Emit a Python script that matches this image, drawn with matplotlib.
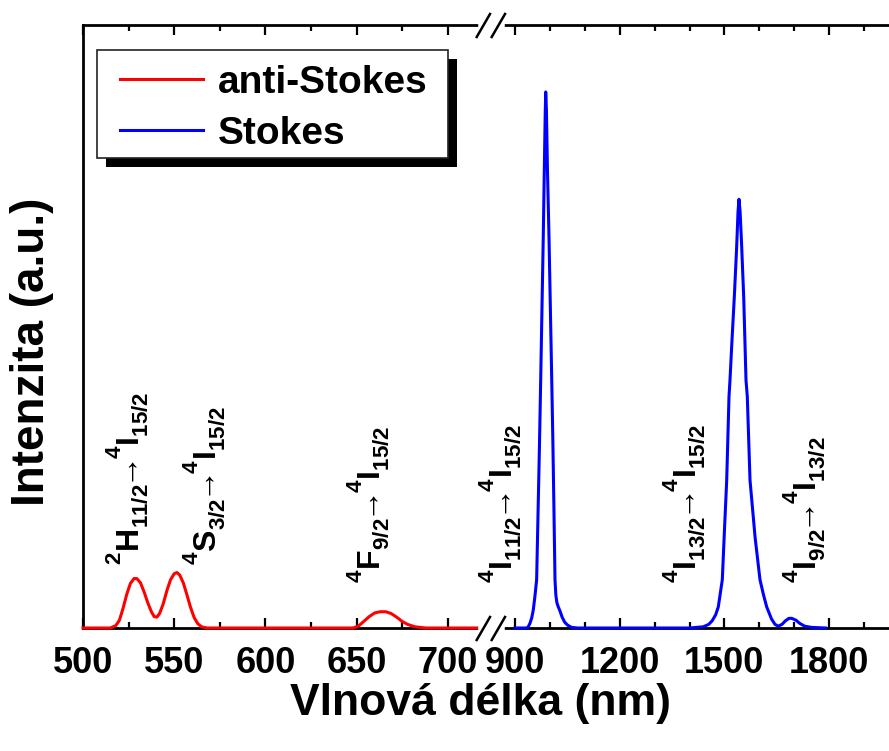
import matplotlib
matplotlib.use('Agg')
import matplotlib.pyplot as plt
from matplotlib.lines import Line2D
from matplotlib.patches import Rectangle
import matplotlib.transforms as mtransforms
from matplotlib.ticker import FixedLocator

try:  # raise superscripts / lower subscripts a bit more, like the original
    import matplotlib._mathtext as _mt
    _mt.FontConstantsBase.sup1 = 1.05
    _mt.FontConstantsBase.sub1 = 0.55
    _mt.FontConstantsBase.sub2 = 0.75
except Exception:
    pass

plt.rcParams['font.family'] = ['Liberation Sans', 'DejaVu Sans']
plt.rcParams['font.weight'] = 'bold'
plt.rcParams['mathtext.fontset'] = 'custom'
plt.rcParams['mathtext.rm'] = 'Liberation Sans'
plt.rcParams['mathtext.bf'] = 'Liberation Sans:bold'
plt.rcParams['mathtext.it'] = 'Liberation Sans:italic'

# ---------------- data ----------------
anti_stokes_nm = [500, 515, 518, 520, 522, 524, 526, 528, 529.5, 531.5, 533.5, 535.5,
                  537.5, 539, 540.5, 542, 544, 546, 548, 550, 551.5, 553, 555, 557,
                  559, 561, 563, 565, 568, 648, 651, 654, 657, 660, 663, 666, 669,
                  672, 675, 678, 682, 688, 719]
anti_stokes_int = [0, 0, 0.004, 0.013, 0.033, 0.056, 0.074, 0.082, 0.082, 0.075, 0.060,
                   0.042, 0.027, 0.019, 0.018, 0.024, 0.040, 0.062, 0.080, 0.090, 0.092,
                   0.088, 0.075, 0.055, 0.034, 0.017, 0.007, 0.002, 0, 0, 0.003, 0.011,
                   0.019, 0.025, 0.027, 0.027, 0.024, 0.018, 0.011, 0.006, 0.002, 0, 0]

stokes_nm = [900, 935, 938, 943, 948, 952.4, 957, 962, 966, 970, 973.6, 977, 981,
             984, 986.5, 988, 990, 993, 997.4, 1001, 1005, 1008.5, 1011.5, 1014.6,
             1017, 1020, 1024, 1029, 1035, 1042, 1050, 1062, 1080,
             1400, 1439.5, 1455, 1465, 1475, 1482.5, 1494, 1500, 1506.6, 1513.2, 1516,
             1522, 1528.4, 1535, 1539, 1541.8, 1545, 1549, 1555.3, 1561.9, 1565.6,
             1573.4, 1588, 1602, 1612, 1621.2, 1635, 1645, 1654.4, 1665, 1675, 1685,
             1692.8, 1705, 1715, 1730, 1750, 1790]
stokes_int = [0, 0, 0.002, 0.008, 0.017, 0.030, 0.052, 0.080, 0.19, 0.30, 0.411, 0.52,
              0.649, 0.76, 0.85, 0.889, 0.86, 0.76, 0.649, 0.54, 0.42, 0.31, 0.20, 0.080,
              0.055, 0.042, 0.035, 0.028, 0.018, 0.010, 0.005, 0.001, 0,
              0, 0.002, 0.006, 0.012, 0.022, 0.035, 0.080, 0.16, 0.245, 0.384, 0.411,
              0.48, 0.549, 0.63, 0.69, 0.711, 0.69, 0.64, 0.549, 0.411, 0.384,
              0.245, 0.15, 0.080, 0.055, 0.035, 0.015, 0.006, 0.003, 0.006, 0.012, 0.016,
              0.016, 0.013, 0.008, 0.003, 0.001, 0]

left_major = [500, 550, 600, 650, 700]
left_minor = [525, 575, 625, 675]
right_major = [900, 1200, 1500, 1800]
right_minor = [1000, 1100, 1300, 1400, 1600, 1700, 1900]

series_labels = ['anti-Stokes', 'Stokes']
series_colors = ['#ff0000', '#0000ff']

ARW = r'\!\!\rightarrow\!\!{}'
annot_left = [
    (524.1, 0.104, r'$^{\mathbf{2}}\mathbf{H}_{\mathbf{11/2}}' + ARW + r'^{\mathbf{4}}\mathbf{I}_{\mathbf{15/2}}$'),
    (566.4, 0.104, r'$^{\mathbf{4}}\mathbf{S}_{\mathbf{3/2}}' + ARW + r'^{\mathbf{4}}\mathbf{I}_{\mathbf{15/2}}$'),
    (656.3, 0.075, r'$^{\mathbf{4}}\mathbf{F}_{\mathbf{9/2}}' + ARW + r'^{\mathbf{4}}\mathbf{I}_{\mathbf{15/2}}$'),
]
annot_right = [
    (857, 0.075, r'$^{\mathbf{4}}\mathbf{I}_{\mathbf{11/2}}' + ARW + r'^{\mathbf{4}}\mathbf{I}_{\mathbf{15/2}}$'),
    (1384, 0.075, r'$^{\mathbf{4}}\mathbf{I}_{\mathbf{13/2}}' + ARW + r'^{\mathbf{4}}\mathbf{I}_{\mathbf{15/2}}$'),
    (1728, 0.075, r'$^{\mathbf{4}}\mathbf{I}_{\mathbf{9/2}}' + ARW + r'^{\mathbf{4}}\mathbf{I}_{\mathbf{13/2}}$'),
]

# ---------------- layout ----------------
W, H = 889, 751
fig = plt.figure(figsize=(W / 100, H / 100), dpi=100)


def fx(px):
    return px / W


def fy(py):
    return 1 - py / H


XL, XB, XR, YT, YB = 83, 491, 889, 25, 628
ax1 = fig.add_axes([fx(XL), fy(YB), fx(XB) - fx(XL), fy(YT) - fy(YB)])
ax2 = fig.add_axes([fx(XB), fy(YB), fx(XR) - fx(XB), fy(YT) - fy(YB)])

l1, = ax1.plot(anti_stokes_nm, anti_stokes_int, color=series_colors[0], lw=2.2,
               zorder=3, clip_on=False, solid_joinstyle='round')
l2, = ax2.plot(stokes_nm, stokes_int, color=series_colors[1], lw=2.2,
               zorder=3, clip_on=False, solid_joinstyle='round')

ax1.set_xlim(500, 500 + (XB - XL) / 1.8235)
ax2.set_xlim(900 - (515 - XB) / 0.349, 900 + (XR - 515) / 0.349)
for ax in (ax1, ax2):
    ax.set_ylim(0, 1)
    ax.set_yticks([])
    for s in ax.spines.values():
        s.set_linewidth(2.0)
    ax.tick_params(axis='x', which='both', direction='in', top=True, bottom=True,
                   width=1.6, labelsize=26, pad=13)
    ax.tick_params(axis='x', which='major', length=7.5)
    ax.tick_params(axis='x', which='minor', length=4)
ax1.spines['right'].set_visible(False)
ax2.spines['left'].set_visible(False)
ax2.spines['right'].set_visible(False)

ax1.xaxis.set_major_locator(FixedLocator(left_major))
ax1.xaxis.set_minor_locator(FixedLocator(left_minor))
ax2.xaxis.set_major_locator(FixedLocator(right_major))
ax2.xaxis.set_minor_locator(FixedLocator(right_minor))
ax1.set_xticklabels([str(v) for v in left_major], fontweight='bold')
ax2.set_xticklabels([str(v) for v in right_major], fontweight='bold')

for ax, annots in ((ax1, annot_left), (ax2, annot_right)):
    tr = mtransforms.blended_transform_factory(ax.transData, ax.transAxes)
    for x, y, s in annots:
        ax.text(x, y, s, transform=tr, rotation=90, ha='center', va='bottom',
                fontsize=23, clip_on=False, zorder=4)

# axis titles
fig.text(fx(480), fy(703), 'Vlnová délka (nm)', ha='center', va='center',
         fontsize=32, fontweight='bold')
fig.text(fx(32), fy(352), 'Intenzita (a.u.)', ha='center', va='center',
         rotation=90, fontsize=33, fontweight='bold')

# legend with a solid drop shadow
shadow = Rectangle((fx(106), fy(167)), fx(448) - fx(97), fy(50) - fy(158),
                   transform=fig.transFigure, facecolor='black', edgecolor='none',
                   zorder=6)
frame = Rectangle((fx(97), fy(158)), fx(448) - fx(97), fy(50) - fy(158),
                  transform=fig.transFigure, facecolor='white', edgecolor='#222222',
                  lw=1.2, zorder=6.5)
fig.add_artist(shadow)
fig.add_artist(frame)
leg = fig.legend([l1, l2], series_labels, loc='upper left',
                 bbox_to_anchor=(fx(120), fy(65)), frameon=False,
                 handlelength=2.13, handletextpad=0.39, labelspacing=0.38,
                 borderpad=0, borderaxespad=0, prop={'weight': 'bold', 'size': 28})
leg.set_zorder(7)
for ln in leg.get_lines():
    ln.set_linewidth(2.2)

# axis break marks
for yb in (YT, YB):
    fig.add_artist(Line2D([fx(481), fx(502)], [fy(yb), fy(yb)], color='white',
                          lw=4, zorder=9))
    for x0 in (476.7, 491.7):
        fig.add_artist(Line2D([fx(x0), fx(x0 + 13.3)], [fy(yb + 12), fy(yb - 11)],
                              color='black', lw=1.8, zorder=10))

fig.savefig('out.png', dpi=100)
